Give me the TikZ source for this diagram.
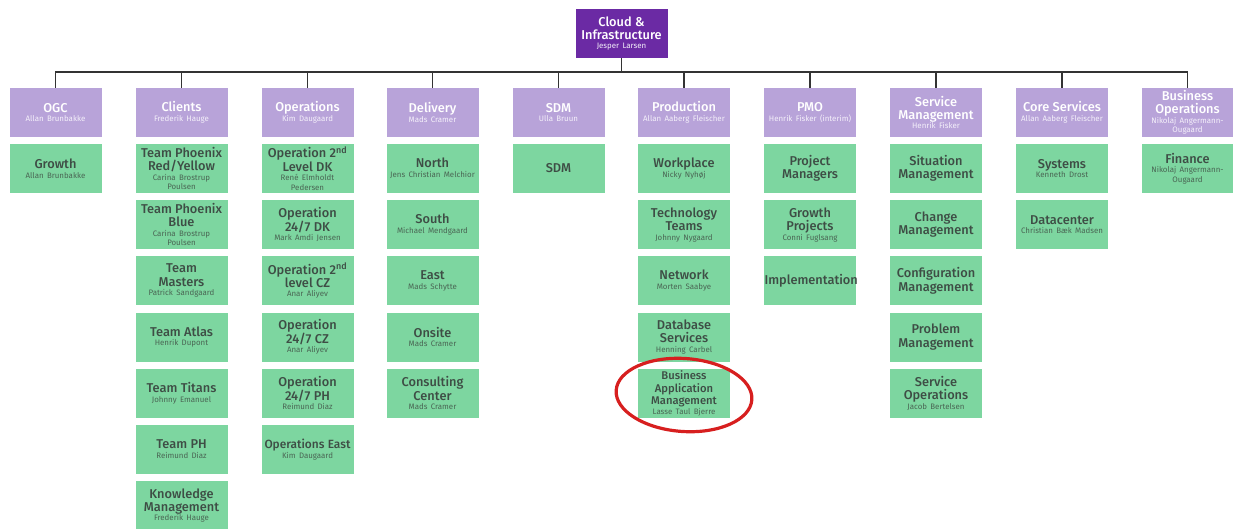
\documentclass[tikz,border=0pt]{standalone}
\usepackage{fontspec}
\setmainfont{Fira Sans}
\newfontfamily\ttlfont{Fira Sans}[UprightFont={* Medium}]
\definecolor{rootc}{HTML}{6B2AA4}
\definecolor{hdrc}{HTML}{B8A3D9}
\definecolor{leafc}{HTML}{7DD6A0}
\definecolor{leaft}{HTML}{3E4D45}
\definecolor{leafn}{HTML}{4A6654}
\definecolor{hdrn}{HTML}{F4F0FA}
\definecolor{ringc}{HTML}{D71F1F}
\newcommand\bxt[1]{{\fontsize{12.8}{13.2}\selectfont\ttlfont #1\par}}
\newcommand\bxn[1]{{\fontsize{7.9}{9.6}\selectfont\color{leafn}#1\par}}
\newcommand\bxhn[1]{{\fontsize{7.9}{9.6}\selectfont\color{hdrn}#1\par}}
\tikzset{
  box/.style={rectangle, inner sep=0pt, minimum width=92pt, minimum height=49pt,
    text width=91pt, align=center},
  rootbox/.style={box, fill=rootc, text=white},
  hdr/.style={box, fill=hdrc, text=white},
  leaf/.style={box, fill=leafc, text=leaft},
  conn/.style={draw=black!80, line width=1.1pt},
  ring/.style={draw=ringc, line width=3.2pt}
}
\begin{document}
\begin{tikzpicture}[x=1pt,y=-1pt]
\useasboundingbox (0,0) rectangle (1233,528);
\clip (0,0) rectangle (1233,528);
% root
\node[rootbox] (root) at (621.5,33.5) {\bxt{Cloud \&\\Infrastructure}\bxhn{Jesper Larsen}};
% headers
\node[hdr] (h1) at (55.5,112.5) {\bxt{OGC}\bxhn{Allan Brunbakke}};
\node[hdr] (h2) at (181.5,112.5) {\bxt{Clients}\bxhn{Frederik Hauge}};
\node[hdr] (h3) at (307.5,112.5) {\bxt{Operations}\bxhn{Kim Daugaard}};
\node[hdr] (h4) at (432.5,112.5) {\bxt{Delivery}\bxhn{Mads Cramer}};
\node[hdr] (h5) at (558.5,112.5) {\bxt{SDM}\bxhn{Ulla Bruun}};
\node[hdr] (h6) at (684,112.5) {\bxt{Production}\bxhn{Allan Aaberg Fleischer}};
\node[hdr] (h7) at (810,112.5) {\bxt{PMO}\bxhn{Henrik Fisker (interim)}};
\node[hdr] (h8) at (936,112.5) {\bxt{Service\\Management}\bxhn{Henrik Fisker}};
\node[hdr] (h9) at (1062,112.5) {\bxt{Core Services}\bxhn{Allan Aaberg Fleischer}};
\node[hdr] (h10) at (1187.5,112.5) {\bxt{Business\\Operations}\bxhn{Nikolaj Angermann-\\Ougaard}};
\coordinate (bus) at (621.5,72);
\foreach \h in {h1,h2,h3,h4,h5,h6,h7,h8,h9,h10}
  \draw[conn] (root.south) |- (bus) -| (\h.north);
% OGC
\node[leaf] (a1) at (55.5,168.5) {\bxt{Growth}\bxn{Allan Brunbakke}};
% Clients
\node[leaf] (b1) at (181.5,168.5) {\bxt{Team Phoenix\\Red/Yellow}\bxn{Carina Brostrup\\Poulsen}};
\node[leaf] (b2) at (181.5,224.7) {\bxt{Team Phoenix\\Blue}\bxn{Carina Brostrup\\Poulsen}};
\node[leaf] (b3) at (181.5,280.8) {\bxt{Team\\Masters}\bxn{Patrick Sandgaard}};
\node[leaf] (b4) at (181.5,337) {\bxt{Team Atlas}\bxn{Henrik Dupont}};
\node[leaf] (b5) at (181.5,393.2) {\bxt{Team Titans}\bxn{Johnny Emanuel}};
\node[leaf] (b6) at (181.5,449.3) {\bxt{Team PH}\bxn{Reimund Diaz}};
\node[leaf] (b7) at (181.5,505.5) {\bxt{Knowledge\\Management}\bxn{Frederik Hauge}};
% Operations
\node[leaf] (c1) at (307.5,168.5) {\bxt{Operation 2\textsuperscript{nd}\\Level DK}\bxn{René Elmholdt\\Pedersen}};
\node[leaf] (c2) at (307.5,224.7) {\bxt{Operation\\24/7 DK}\bxn{Mark Amdi Jensen}};
\node[leaf] (c3) at (307.5,280.8) {\bxt{Operation 2\textsuperscript{nd}\\level CZ}\bxn{Anar Aliyev}};
\node[leaf] (c4) at (307.5,337) {\bxt{Operation\\24/7 CZ}\bxn{Anar Aliyev}};
\node[leaf] (c5) at (307.5,393.2) {\bxt{Operation\\24/7 PH}\bxn{Reimund Diaz}};
\node[leaf] (c6) at (307.5,449.3) {{\fontsize{11.9}{13.2}\selectfont\ttlfont Operations East\par}\bxn{Kim Daugaard}};
% Delivery
\node[leaf] (d1) at (432.5,168.5) {\bxt{North}\bxn{Jens Christian Melchior}};
\node[leaf] (d2) at (432.5,224.7) {\bxt{South}\bxn{Michael Mendgaard}};
\node[leaf] (d3) at (432.5,280.8) {\bxt{East}\bxn{Mads Schytte}};
\node[leaf] (d4) at (432.5,337) {\bxt{Onsite}\bxn{Mads Cramer}};
\node[leaf] (d5) at (432.5,393.2) {\bxt{Consulting\\Center}\bxn{Mads Cramer}};
% SDM
\node[leaf] (e1) at (558.5,168.5) {\bxt{SDM}};
% Production
\node[leaf] (f1) at (684,168.5) {\bxt{Workplace}\bxn{Nicky Nyhøj}};
\node[leaf] (f2) at (684,224.7) {\bxt{Technology\\Teams}\bxn{Johnny Nygaard}};
\node[leaf] (f3) at (684,280.8) {\bxt{Network}\bxn{Morten Saabye}};
\node[leaf] (f4) at (684,337) {\bxt{Database\\Services}\bxn{Henning Carbel}};
\node[leaf] (f5) at (684,393.2) {{\fontsize{11.2}{12.6}\selectfont\ttlfont Business\\Application\\Management\par}\bxn{Lasse Taul Bjerre}};
% PMO
\node[leaf] (g1) at (810,168.5) {\bxt{Project\\Managers}};
\node[leaf] (g2) at (810,224.7) {\bxt{Growth\\Projects}\bxn{Conni Fuglsang}};
\node[leaf] (g3) at (810,280.8) {\bxt{Implementation}};
% Service Management
\node[leaf] (k1) at (936,168.5) {\bxt{Situation\\Management}};
\node[leaf] (k2) at (936,224.7) {\bxt{Change\\Management}};
\node[leaf] (k3) at (936,280.8) {\bxt{Configuration\\Management}};
\node[leaf] (k4) at (936,337) {\bxt{Problem\\Management}};
\node[leaf] (k5) at (936,393.2) {\bxt{Service\\Operations}\bxn{Jacob Bertelsen}};
% Core Services
\node[leaf] (m1) at (1062,168.5) {\bxt{Systems}\bxn{Kenneth Drost}};
\node[leaf] (m2) at (1062,224.7) {\bxt{Datacenter}\bxn{Christian Bæk Madsen}};
% Business Operations
\node[leaf] (n1) at (1187.5,168.5) {\bxt{Finance}\bxn{Nikolaj Angermann-\\Ougaard}};
% highlight ring
\draw[ring, rotate around={-4:(684,395)}] (684,395) ellipse [x radius=68, y radius=36.5];
\end{tikzpicture}
\end{document}
